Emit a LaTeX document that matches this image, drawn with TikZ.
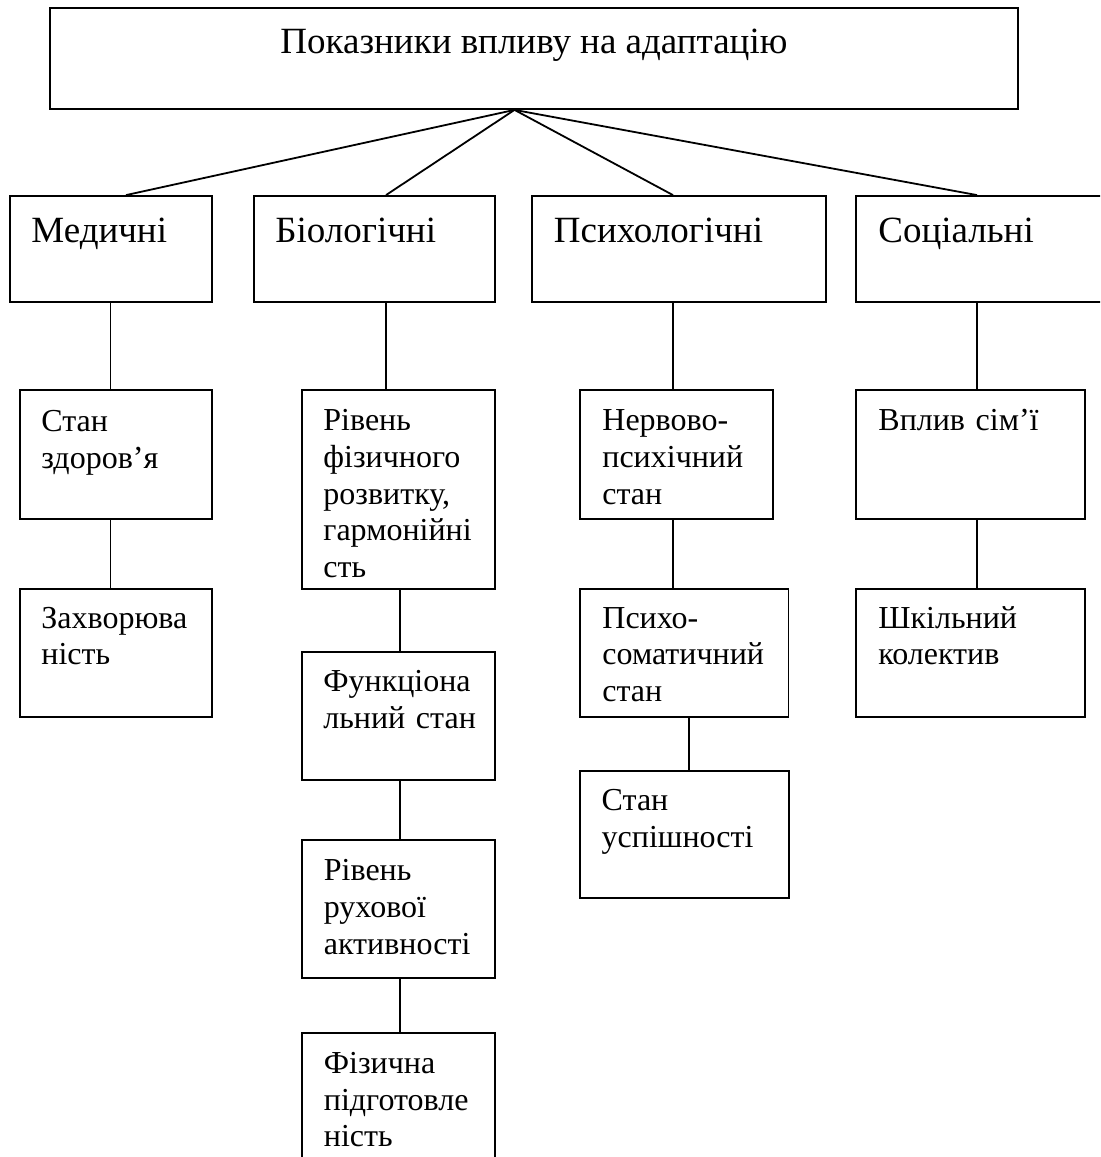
\documentclass[tikz,border=0pt]{standalone}
\usepackage{fontspec}
\setmainfont{Liberation Serif}
\usetikzlibrary{fit}
\begin{document}
\begin{tikzpicture}[x=0.5pt,y=-0.5pt,
  box/.style={draw, line width=0.9pt, inner sep=0pt},
  conn/.style={line width=0.9pt},
  big/.style={font=\fontsize{18.5pt}{21pt}\selectfont, inner sep=0pt},
  sm/.style={font=\fontsize{16pt}{18.35pt}\selectfont, inner sep=0pt, anchor=base west, text width=100pt, align=left}]
\useasboundingbox (0,0) rectangle (1100,1157);
\clip (0,0) rectangle (1100,1157);
% top
\node[box, fit={(50,8) (1018,109)}] (top) {};
\node[big, anchor=base] (toptxt) at (534,53) {Показники впливу на адаптацію};
% level 2
\node[box, fit={(10,196) (212,302)}] (med) {};
\node[big, anchor=base west] (medt) at (31,242) {Медичні};
\node[box, fit={(253.6,196) (494.6,302)}] (bio) {};
\node[big, anchor=base west] (biot) at (275,242) {Біологічні};
\node[box, fit={(532,196) (826,302)}] (psy) {};
\node[big, anchor=base west] (psyt) at (553.5,242) {Психологічні};
\node[box, fit={(856,196) (1130,302)}] (soc) {};
\node[big, anchor=base west] (soct) at (878,242) {Соціальні};
% level 3+
\node[box, fit={(20,390) (212,519)}] (zd) {};
\node[sm] (zdt) at (41,431.7) {Стан\\здоров’я};
\node[box, fit={(301.6,390) (494.6,588.7)}] (rf) {};
\node[sm] (rft) at (323,430.7) {Рівень\\фізичного\\розвитку,\\гармонійні\\сть};
\node[box, fit={(580,390) (772.7,519)}] (nv) {};
\node[sm] (nvt) at (602,430.7) {Нервово-\\психічний\\стан};
\node[box, fit={(856,390) (1085,519)}] (vs) {};
\node[sm] (vst) at (878,430.7) {Вплив сім’ї};
\node[box, fit={(20,588.7) (212,716.7)}] (zh) {};
\node[sm] (zht) at (41,628) {Захворюва\\ність};
\node[box, fit={(302,651.7) (494.6,780)}] (fu) {};
\node[sm] (fut) at (323,691.7) {Функціона\\льний стан};
\node[box, fit={(580,588.7) (788.5,716.7)}] (ps) {};
\node[sm] (pst) at (602,628) {Психо-\\соматичний\\стан};
\node[box, fit={(856,588.7) (1085,716.7)}] (sk) {};
\node[sm] (skt) at (878,628) {Шкільний\\колектив};
\node[box, fit={(302,840) (494.6,978.3)}] (ru) {};
\node[sm] (rut) at (323.5,880.7) {Рівень\\рухової\\активності};
\node[box, fit={(580,770.7) (789,898.3)}] (us) {};
\node[sm] (ust) at (601.3,810.7) {Стан\\успішності};
\node[box, fit={(302,1033) (494.6,1190)}] (fi) {};
\node[sm] (fitxt) at (323.5,1073.3) {Фізична\\підготовле\\ність};
% connectors from top
\draw[conn] (top.south -| 514.5,0) -- (med.north -| 126,0);
\draw[conn] (top.south -| 514.5,0) -- (bio.north -| 386,0);
\draw[conn] (top.south -| 514.5,0) -- (psy.north -| 673,0);
\draw[conn] (top.south -| 514.5,0) -- (soc.north -| 977,0);
% vertical connectors
\draw[conn] (med.south -| 110.5,0) -- (zd.north -| 110.5,0);
\draw[conn] (zd.south -| 110.5,0) -- (zh.north -| 110.5,0);
\draw[conn] (bio.south -| 386,0) -- (rf.north -| 386,0);
\draw[conn] (rf.south -| 400,0) -- (fu.north -| 400,0);
\draw[conn] (fu.south -| 400,0) -- (ru.north -| 400,0);
\draw[conn] (ru.south -| 400,0) -- (fi.north -| 400,0);
\draw[conn] (psy.south -| 672.8,0) -- (nv.north -| 672.8,0);
\draw[conn] (nv.south -| 672.8,0) -- (ps.north -| 672.8,0);
\draw[conn] (ps.south -| 689,0) -- (us.north -| 689,0);
\draw[conn] (soc.south -| 977,0) -- (vs.north -| 977,0);
\draw[conn] (vs.south -| 977,0) -- (sk.north -| 977,0);
\end{tikzpicture}
\end{document}
